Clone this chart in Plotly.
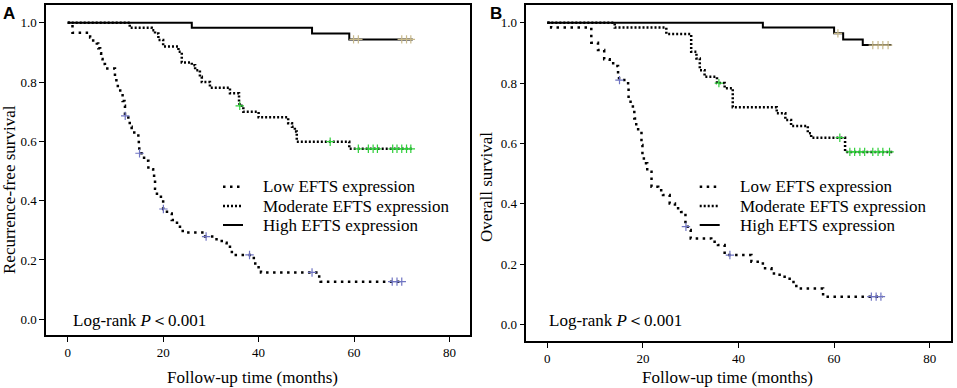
import numpy as np
import plotly.graph_objects as go

W, H = 957, 388

# ---------------- Data: Panel A (recurrence-free survival) ----------------
a_low_t = [0, 1.0, 4.7, 5.0, 6.1, 6.4, 6.8, 7.0, 7.3, 7.8, 9.9, 10.2, 10.5, 11.0, 11.5, 11.9, 12.0,
           12.7, 13.0, 13.4, 14.8, 14.9, 15.0, 16.0, 16.9, 17.9, 18.1, 18.3, 18.7, 20.0, 20.8, 21.8,
           22.9, 24.1, 28.8, 30.6, 31.6, 32.7, 33.3, 34.0, 34.4, 39.0, 39.3, 40.0, 40.5, 52.7, 53.0]
a_low_s = [1.0, 0.966, 0.95, 0.94, 0.93, 0.914, 0.897, 0.878, 0.861, 0.846, 0.8125, 0.796, 0.779, 0.756,
           0.736, 0.72, 0.686, 0.668, 0.649, 0.63, 0.61, 0.588, 0.56, 0.535, 0.506, 0.49, 0.469, 0.44,
           0.413, 0.372, 0.357, 0.335, 0.312, 0.293, 0.279, 0.27, 0.264, 0.258, 0.25, 0.239, 0.217,
           0.2, 0.183, 0.166, 0.158, 0.1325, 0.127]
a_low_end = 70.0
a_low_cens = [12.05, 15.05, 20.05, 29.0, 38.1, 51.2, 68.0, 69.0, 70.0]

a_mod_t = [0, 13.0, 17.6, 18.3, 19.0, 20.0, 23.2, 23.9, 26.0, 26.7, 27.7, 28.1, 29.8, 34.0, 35.9,
           36.0, 36.8, 40.0, 46.2, 47.0, 47.6, 48.0, 59.0]
a_mod_s = [1.0, 0.983, 0.975, 0.964, 0.942, 0.92, 0.902, 0.866, 0.857, 0.84, 0.818, 0.80, 0.781,
           0.762, 0.734, 0.72, 0.70, 0.681, 0.661, 0.649, 0.633, 0.599, 0.575]
a_mod_end = 72.3
a_mod_cens = [36.05, 55.0, 60.9, 63.0, 64.0, 64.9, 68.1, 69.0, 70.0, 71.0, 71.9]

a_high_t = [0, 26.0, 51.2, 59.0]
a_high_s = [1.0, 0.983, 0.964, 0.944]
a_high_end = 72.3
a_high_cens = [59.9, 60.9, 70.0, 71.0, 71.9]

# ---------------- Data: Panel B (overall survival) ----------------
b_low_t = [0, 0.8, 9.2, 10.6, 11.9, 13.05, 14.1, 14.8, 15.0, 16.9, 17.0, 17.9, 18.2, 18.6, 19.0,
           19.7, 19.9, 20.2, 20.9, 21.8, 23.2, 24.2, 25.6, 26.7, 28.0, 28.9, 29.8, 30.0, 34.3, 35.7,
           37.1, 42.7, 45.1, 46.9, 48.6, 50.7, 52.1, 57.7]
b_low_s = [1.0, 0.984, 0.934, 0.91, 0.879, 0.866, 0.857, 0.83, 0.81, 0.79, 0.738, 0.711, 0.683,
           0.655, 0.64, 0.595, 0.556, 0.534, 0.506, 0.456, 0.445, 0.429, 0.401, 0.385, 0.373, 0.324,
           0.313, 0.285, 0.274, 0.263, 0.23, 0.208, 0.186, 0.169, 0.158, 0.141, 0.119, 0.092]
b_low_end = 70.2
b_low_cens = [15.1, 29.0, 38.2, 67.8, 68.8, 69.8]

b_mod_t = [0, 14.1, 24.9, 30.1, 31.2, 31.9, 32.9, 35.5, 37.1, 38.8, 48.0, 49.8, 51.0, 54.5, 55.2, 62.3]
b_mod_s = [1.0, 0.984, 0.963, 0.904, 0.882, 0.843, 0.821, 0.80, 0.783, 0.72, 0.70, 0.678, 0.658,
           0.634, 0.619, 0.572]
b_mod_end = 72.3
b_mod_cens = [35.9, 61.2, 63.3, 64.3, 65.4, 66.4, 68.1, 69.2, 70.2, 71.6]

b_high_t = [0, 45.1, 60.0, 61.9, 66.0]
b_high_s = [1.0, 0.984, 0.965, 0.945, 0.926]
b_high_end = 72.0
b_high_cens = [60.8, 68.1, 69.2, 70.2, 71.3]

x_ticks = [0, 20, 40, 60, 80]
x_tick_text = ["0", "20", "40", "60", "80"]
y_ticks = [0.0, 0.2, 0.4, 0.6, 0.8, 1.0]
y_tick_text = ["0.0", "0.2", "0.4", "0.6", "0.8", "1.0"]

legend_labels = ["Low EFTS expression", "Moderate EFTS expression", "High EFTS expression"]

SERIF = "Liberation Serif, Times New Roman, serif"
LOW_DASH = "2.5px,4.5px"
MOD_DASH = "2px,2px"
COL_LOW = "#6f74c2"
COL_MOD = "#2fcf3a"
COL_HIGH = "#c8b98a"
TXT = 17


def step_value(t, s, c):
    idx = np.searchsorted(np.array(t), np.array(c), side="right") - 1
    return np.array(s)[idx]


fig = go.Figure()


def add_curve(t, s, end, cens, dash, width, ccol, xa, ya):
    x = list(t) + [end]
    y = list(s) + [s[-1]]
    fig.add_trace(go.Scatter(x=x, y=y, mode="lines",
                             line=dict(shape="hv", color="black", width=width, dash=dash),
                             xaxis=xa, yaxis=ya, showlegend=False, hoverinfo="skip"))
    fig.add_trace(go.Scatter(x=cens, y=step_value(t, s, cens), mode="markers",
                             marker=dict(symbol="cross-thin", size=6,
                                         line=dict(color=ccol, width=1.2)),
                             xaxis=xa, yaxis=ya, showlegend=False, hoverinfo="skip"))


add_curve(a_mod_t, a_mod_s, a_mod_end, a_mod_cens, MOD_DASH, 2.5, COL_MOD, "x", "y")
add_curve(a_low_t, a_low_s, a_low_end, a_low_cens, LOW_DASH, 2.5, COL_LOW, "x", "y")
add_curve(a_high_t, a_high_s, a_high_end, a_high_cens, "solid", 2, COL_HIGH, "x", "y")

add_curve(b_mod_t, b_mod_s, b_mod_end, b_mod_cens, MOD_DASH, 2.5, COL_MOD, "x2", "y2")
add_curve(b_low_t, b_low_s, b_low_end, b_low_cens, LOW_DASH, 2.5, COL_LOW, "x2", "y2")
add_curve(b_high_t, b_high_s, b_high_end, b_high_cens, "solid", 2, COL_HIGH, "x2", "y2")

axis_common = dict(showline=True, mirror=True, linecolor="black", linewidth=1.5,
                   showgrid=False, zeroline=False, ticks="outside", ticklen=5,
                   tickwidth=1, tickcolor="black",
                   tickfont=dict(family=SERIF, size=13, color="black"))

fig.update_layout(
    width=W, height=H, margin=dict(l=0, r=0, t=0, b=0),
    paper_bgcolor="white", plot_bgcolor="white", showlegend=False,
    xaxis=dict(domain=[46 / W, 470 / W], range=[-4.55, 84.3], tickvals=x_ticks,
               ticktext=x_tick_text, anchor="y", **axis_common),
    yaxis=dict(domain=[1 - 335 / H, 1 - 5 / H], range=[-0.053, 1.06], tickvals=y_ticks,
               ticktext=y_tick_text, anchor="x", **axis_common),
    xaxis2=dict(domain=[526.3 / W, 950.7 / W], range=[-4.4, 84.4], tickvals=x_ticks,
                ticktext=x_tick_text, anchor="y2", **axis_common),
    yaxis2=dict(domain=[1 - 341 / H, 1 - 5 / H], range=[-0.055, 1.059], tickvals=y_ticks,
                ticktext=y_tick_text, anchor="x2", **axis_common),
)


def px(x):
    return x / W


def py(y):
    return 1 - y / H


ann = []
# panel letters
ann.append(dict(text="<b>A</b>", x=px(9), y=py(14), font=dict(family="Liberation Sans, Arial", size=17)))
ann.append(dict(text="<b>B</b>", x=px(496), y=py(14), font=dict(family="Liberation Sans, Arial", size=17)))
# axis titles
ann.append(dict(text="Follow-up time (months)", x=px(252), y=py(377), font=dict(family=SERIF, size=TXT)))
ann.append(dict(text="Follow-up time (months)", x=px(727), y=py(377), font=dict(family=SERIF, size=TXT)))
ann.append(dict(text="Recurrence-free survival", x=px(9), y=py(190), textangle=-90,
                font=dict(family=SERIF, size=TXT)))
ann.append(dict(text="Overall survival", x=px(486), y=py(187), textangle=-90,
                font=dict(family=SERIF, size=TXT)))
# log-rank
ann.append(dict(text="Log-rank <i>P</i>＜0.001", x=px(71), y=py(320), xanchor="left",
                font=dict(family=SERIF, size=TXT)))
ann.append(dict(text="Log-rank <i>P</i>＜0.001", x=px(547), y=py(320), xanchor="left",
                font=dict(family=SERIF, size=TXT)))

shapes = []
rows = [186.7, 206, 225]
dashes = [(LOW_DASH, 2.5), (MOD_DASH, 2.5), ("solid", 2)]
for (lx0, lx1, tx) in [(223, 243, 261), (699.7, 719.7, 737.5)]:
    for r, lab, (d, w) in zip(rows, legend_labels, dashes):
        shapes.append(dict(type="line", xref="paper", yref="paper", x0=px(lx0), x1=px(lx1),
                           y0=py(r), y1=py(r), line=dict(color="black", width=w, dash=d)))
        ann.append(dict(text=lab, x=px(tx), y=py(r), xanchor="left",
                        font=dict(family=SERIF, size=TXT)))

for a in ann:
    a.setdefault("xref", "paper")
    a.setdefault("yref", "paper")
    a.setdefault("showarrow", False)
    a["font"]["color"] = "black"
    a.setdefault("xanchor", "center")
    a.setdefault("yanchor", "middle")

fig.update_layout(annotations=ann, shapes=shapes)
fig.write_html("out.html", config={"displayModeBar": False},
               post_script="document.body.style.margin='0';document.body.style.padding='0';")
